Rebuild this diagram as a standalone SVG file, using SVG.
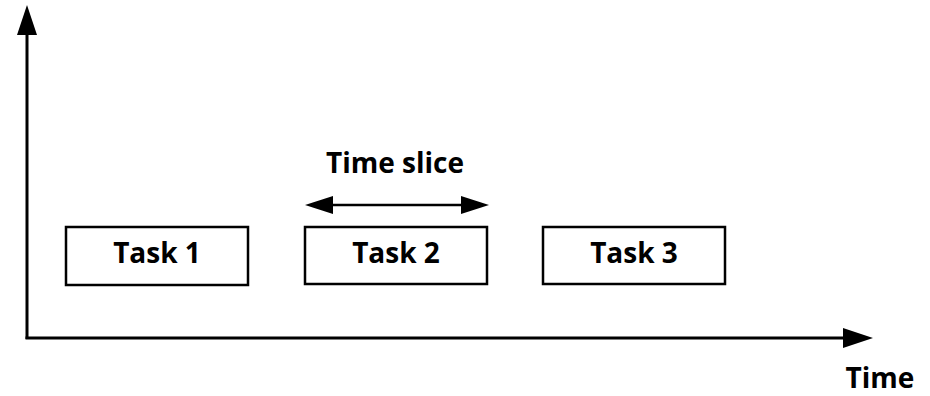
<svg xmlns="http://www.w3.org/2000/svg" width="930" height="396" viewBox="0 0 930 396">
<style>
.box{fill:#fff;stroke:#000;stroke-width:2.5}
.lbl{font-family:"Open Sans","Liberation Sans",sans-serif;font-weight:bold;font-size:28px;fill:#000;text-anchor:middle}
.ax{stroke:#000;stroke-width:3;fill:none}
.ln{stroke:#000;stroke-width:2.5;fill:none}
</style>
<rect width="930" height="396" fill="#fff"/>
<g id="connectors">
<line class="ax" x1="27" y1="339" x2="27" y2="30"/>
<polygon points="27,5 17,35 37,35" fill="#000"/>
<line class="ax" x1="25.5" y1="338" x2="848" y2="338"/>
<polygon points="873,338 843,328 843,348" fill="#000"/>
<line class="ln" x1="330" y1="205" x2="464" y2="205"/>
<polygon points="305,205 333,196 333,214" fill="#000"/>
<polygon points="489,205 461,196 461,214" fill="#000"/>
</g>
<g id="task1"><rect class="box" x="66" y="227" width="182" height="58"/><text class="lbl" x="157" y="263">Task 1</text></g>
<g id="task2"><rect class="box" x="305" y="227" width="182" height="57"/><text class="lbl" x="396" y="263">Task 2</text></g>
<g id="task3"><rect class="box" x="543" y="227" width="182" height="57"/><text class="lbl" x="634" y="263">Task 3</text></g>
<g id="timeslice"><text class="lbl" x="395" y="173">Time slice</text></g>
<g id="time"><text class="lbl" x="880" y="388">Time</text></g>
</svg>
